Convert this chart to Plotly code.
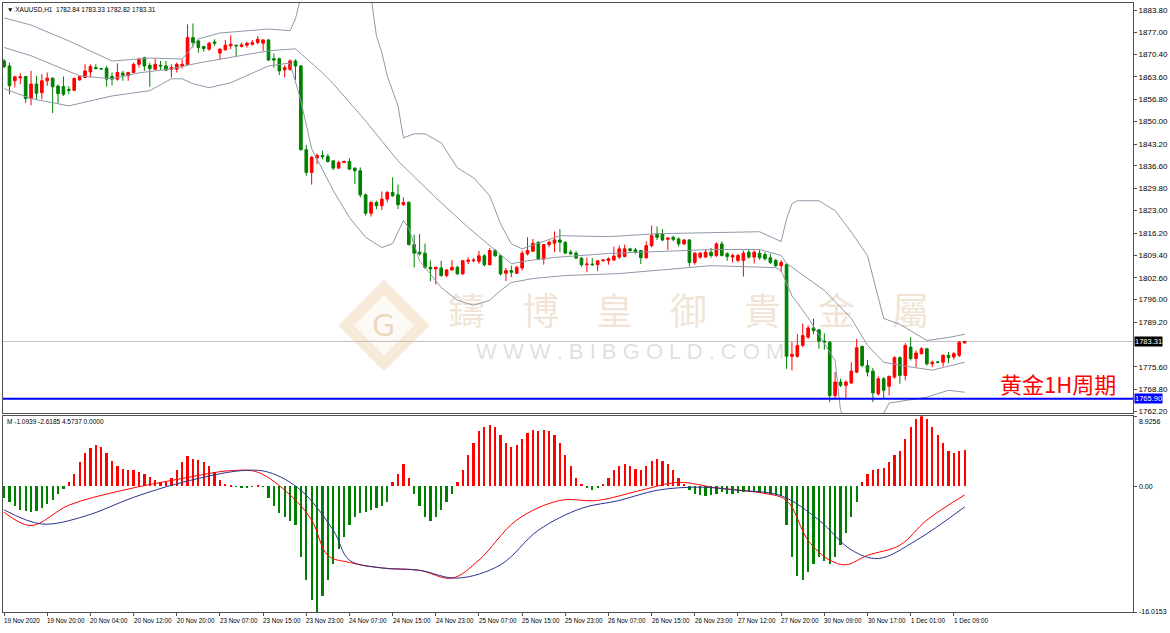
import plotly.graph_objects as go

# ---------------- data ----------------
open_ = [1868.4,1866.9,1862.4,1863.3,1863.7,1857.0,1861.4,1858.8,1862.4,1863.2,1860.8,1860.6,1859.8,1859.5,1862.7,1863.4,1865.1,1866.4,1866.1,1866.2,
         1863.7,1862.9,1864.7,1863.9,1864.9,1867.4,1869.4,1867.1,1865.9,1867.1,1866.9,1865.9,1865.9,1866.9,1867.4,1875.5,1874.5,1872.8,1872.0,1874.2,
         1870.8,1871.8,1873.0,1873.2,1872.8,1873.2,1873.5,1874.0,1873.8,1874.8,1869.1,1869.1,1865.7,1865.9,1868.4,1866.9,1841.5,1834.6,1839.0,1839.7,
         1839.4,1838.1,1835.9,1837.6,1837.9,1835.9,1835.1,1827.8,1822.2,1825.5,1824.5,1826.5,1828.5,1827.8,1824.8,1825.5,1812.7,1810.4,1810.1,1805.8,
         1805.3,1805.6,1803.3,1805.0,1805.8,1803.8,1807.6,1807.8,1807.6,1809.3,1806.6,1810.9,1809.3,1804.0,1804.8,1804.0,1805.6,1809.9,1810.7,1813.4,
         1808.3,1812.7,1813.1,1814.1,1813.4,1810.4,1810.1,1808.6,1806.6,1806.8,1806.6,1807.8,1807.8,1808.0,1808.9,1809.1,1811.4,1811.1,1810.9,1808.7,
         1812.4,1815.9,1815.9,1814.3,1814.9,1814.4,1812.9,1814.1,1807.3,1808.9,1808.9,1810.4,1809.4,1812.9,1809.9,1808.9,1807.9,1807.9,1810.4,1808.9,
         1810.1,1809.7,1808.7,1807.9,1806.3,1806.6,1778.8,1778.8,1782.1,1784.6,1787.4,1786.8,1783.4,1783.1,1766.9,1771.0,1770.0,1770.7,1774.0,1781.8,
         1776.0,1774.3,1767.4,1772.0,1769.7,1772.5,1778.4,1773.0,1781.6,1778.1,1779.6,1781.1,1776.5,1777.1,1777.0,1779.1,1778.6,1779.1,1782.84]
high = [1869.0,1867.9,1863.9,1864.7,1863.9,1865.4,1863.9,1864.4,1864.9,1863.4,1861.3,1863.7,1860.8,1863.4,1863.9,1867.4,1867.4,1867.4,1866.3,1866.9,
        1864.9,1867.7,1865.4,1865.1,1867.9,1869.4,1869.7,1867.9,1869.1,1868.4,1868.4,1867.4,1867.9,1868.9,1879.5,1879.8,1874.8,1873.0,1874.2,1875.0,
        1872.2,1874.8,1876.2,1873.3,1874.0,1874.2,1874.8,1876.0,1875.0,1875.0,1870.7,1869.4,1867.1,1868.9,1868.9,1867.1,1843.0,1839.6,1840.4,1841.2,
        1840.2,1838.3,1838.1,1838.2,1838.9,1836.1,1836.1,1828.2,1826.0,1826.0,1828.8,1829.0,1833.1,1830.9,1827.0,1825.8,1815.7,1815.9,1813.0,1807.9,
        1806.0,1807.8,1805.3,1808.0,1806.3,1808.0,1808.8,1808.6,1810.8,1809.8,1811.7,1811.4,1809.6,1805.6,1806.3,1806.3,1810.9,1814.9,1814.4,1813.7,
        1812.9,1813.9,1816.7,1817.4,1813.7,1811.1,1810.7,1808.8,1808.8,1808.6,1808.0,1808.3,1808.8,1812.1,1812.4,1812.7,1811.7,1811.7,1811.1,1813.7,
        1818.5,1818.2,1817.4,1814.9,1815.4,1814.9,1814.4,1814.4,1810.4,1810.4,1811.1,1811.7,1813.4,1813.7,1810.4,1809.9,1809.9,1810.9,1811.1,1810.9,
        1811.1,1810.4,1809.9,1808.4,1808.0,1807.0,1783.1,1785.6,1788.7,1788.2,1790.2,1787.1,1785.8,1783.4,1774.0,1772.0,1771.5,1777.0,1784.1,1782.1,
        1777.7,1775.3,1772.7,1772.5,1773.0,1778.8,1778.8,1782.8,1784.6,1780.6,1781.6,1781.4,1777.5,1777.3,1779.4,1780.1,1780.1,1783.4,1783.33]
low = [1866.2,1858.3,1860.4,1861.4,1855.6,1855.0,1856.8,1856.8,1860.9,1852.6,1855.6,1857.8,1858.3,1859.3,1862.4,1863.4,1863.4,1865.9,1865.8,1860.6,
       1861.0,1862.4,1862.4,1862.4,1864.7,1866.4,1865.4,1860.6,1865.7,1865.7,1865.4,1863.4,1864.9,1866.1,1867.1,1872.5,1870.9,1871.2,1871.5,1873.0,
       1868.7,1871.5,1872.0,1869.9,1872.5,1872.5,1873.0,1873.5,1871.5,1868.4,1866.4,1864.1,1863.4,1865.4,1862.7,1841.2,1833.6,1830.9,1837.1,1838.6,
       1837.6,1835.3,1835.6,1837.5,1835.3,1831.1,1827.0,1821.5,1821.2,1823.5,1823.2,1825.5,1827.2,1823.5,1824.5,1812.4,1805.8,1809.4,1805.3,1801.6,
       1800.6,1803.0,1802.8,1804.8,1803.6,1803.6,1806.8,1807.3,1806.8,1806.0,1806.3,1809.0,1803.3,1801.6,1802.8,1803.8,1804.8,1809.4,1810.4,1808.0,
       1806.6,1811.9,1810.4,1810.4,1809.9,1809.6,1808.3,1806.0,1804.3,1806.3,1804.6,1807.6,1806.6,1807.8,1808.4,1808.8,1810.4,1809.9,1806.8,1808.4,
       1811.9,1814.1,1813.7,1811.1,1813.7,1812.1,1812.6,1806.0,1806.6,1808.4,1808.7,1808.7,1808.9,1809.1,1807.8,1807.3,1807.3,1803.0,1808.4,1807.0,
       1808.1,1807.9,1806.8,1805.8,1804.3,1775.0,1774.5,1778.4,1781.6,1784.1,1785.6,1781.1,1780.8,1764.9,1765.9,1769.5,1765.6,1770.5,1773.7,1775.5,
       1772.7,1764.9,1766.9,1765.9,1766.9,1772.0,1770.5,1771.5,1777.5,1775.5,1779.4,1776.0,1775.5,1776.7,1775.7,1776.7,1777.8,1778.6,1782.82]
close = [1866.7,1860.9,1863.6,1863.6,1857.0,1861.4,1858.6,1862.4,1863.2,1860.6,1858.5,1858.3,1859.5,1863.1,1863.7,1865.4,1866.7,1866.1,1866.0,1862.9,
         1862.9,1864.9,1864.1,1864.9,1867.4,1868.9,1866.9,1866.1,1867.4,1866.9,1865.6,1866.4,1867.4,1867.4,1875.5,1874.0,1872.5,1872.2,1873.8,1873.8,
         1872.0,1873.2,1873.5,1873.0,1873.3,1873.8,1874.0,1875.0,1874.8,1868.7,1868.7,1865.4,1866.4,1868.4,1866.9,1841.5,1834.6,1839.2,1839.7,1839.4,
         1837.9,1835.9,1837.6,1837.9,1835.6,1835.1,1827.8,1822.2,1825.5,1824.5,1826.5,1828.5,1827.5,1824.8,1825.5,1812.7,1810.1,1809.9,1805.8,1805.3,
         1805.8,1803.3,1805.0,1805.8,1803.8,1807.8,1808.0,1808.0,1809.3,1806.6,1810.9,1809.3,1803.8,1804.8,1804.3,1805.8,1810.1,1810.9,1813.1,1808.3,
         1812.7,1813.4,1814.1,1813.4,1810.1,1809.9,1808.6,1806.6,1806.8,1806.6,1807.8,1808.0,1808.4,1809.2,1811.4,1811.4,1810.9,1810.4,1808.7,1812.4,
         1815.4,1814.9,1814.1,1814.7,1814.3,1812.9,1814.1,1807.3,1810.1,1810.1,1810.4,1809.4,1812.9,1809.4,1809.1,1809.4,1809.4,1810.1,1808.9,1810.4,
         1808.7,1808.4,1807.3,1806.3,1807.3,1778.8,1779.4,1782.1,1785.1,1787.4,1786.6,1783.4,1783.1,1766.9,1771.0,1770.0,1771.0,1774.3,1781.4,1776.0,
         1774.0,1767.7,1772.0,1768.5,1772.7,1778.4,1773.0,1782.1,1778.1,1779.8,1781.1,1776.5,1777.0,1777.0,1779.1,1778.4,1779.6,1783.1,1783.31]

macd_hist = [-1.5,-2,-2.5,-3,-3.2,-3.3,-3.2,-2.8,-2.3,-1.8,-1.0,-0.4,
             0.5,1.5,3,4.2,4.8,5.2,5.0,4.2,3.2,2.5,2.2,2.0,2.0,
             1.8,1.5,1.2,0.8,0.5,0.6,1.0,
             2.0,3.0,3.8,3.5,3.3,3.0,2.5,1.8,0.8,
             0.3,0.1,-0.1,-0.2,-0.2,-0.1,0.1,-0.1,
             -1.5,-2.5,-3.5,-4.0,-4.5,-5.0,-9,-12,-14.5,-16.0153,
             -14,-12,-10,-8,-6.5,-5,-4,-3.5,-3.3,-3.0,-2.8,-2.5,-2,
             0.5,1.5,2.8,1.0,
             -1,-2.5,-4,-4.5,-4,-3,-2,-1,
             0.5,2,4,5.5,7,7.5,7.8,7.5,6.5,5.5,5.0,5.2,6,6.8,7.2,7.0,7.2,7.0,6.5,5.5,4,2.5,
             1,0.3,-0.3,-0.5,-0.3,0.3,
             1,2,2.5,2.8,2.5,2.2,2.0,2.5,3.2,3.5,3.2,2.8,2.0,1.0,0.3,
             -0.5,-1,-1.2,-1.3,-1.2,-1.0,-0.8,-1.0,-1.0,-0.9,-0.8,-0.7,-0.8,-0.9,-1.0,-1.0,-1.2,-1.3,
             -5,-9,-11.5,-12,-11,-10,-9,-9.5,-10,-9,-7.5,-6,-4,-2,
             0.5,1.5,2,2.2,2.3,3,4,4.5,6,7.5,8.5,8.9256,8.5,7.5,6.5,5.5,4.5,4.2,4.5,4.5737]

dif_bar = [0,5,12,22,33,42,47,53,57,60,64,70,77,83,88,95,103,110,118,125,132,140,145,149,153,156,160,166,171,178]
dif_val = [-3.3,-5.0,-2.4,-0.5,1.0,2.0,1.8,-1.1,-4.3,-8.8,-9.7,-10.4,-10.7,-11.7,-9.4,-4.3,-1.8,-1.8,-0.5,0.5,-0.2,-0.8,-1.8,-6.9,-9.4,-10.0,-8.8,-7.5,-4.3,-1.0939]
dea_bar = [0,7,15,24,33,44,49,55,61,64,70,77,84,92,99,107,114,121,129,136,144,151,157,162,169,178]
dea_val = [-3.0,-4.8,-3.8,-1.4,0.5,2.0,1.8,-0.5,-5.6,-9.4,-10.4,-10.7,-11.7,-10.0,-5.6,-2.8,-1.8,-0.5,-0.1,-0.5,-1.2,-4.3,-8.1,-9.2,-6.9,-2.6185]

bb_up_bar = [0,5,12,20,27,33,34,36,40,49,53,54,55,None,68,69,70,71,73,74,76,78,81,84,87,90,92,94,96,103,112,121,140,144,145,146,147,151,154,157,160,162,163,166,171,175,178]
bb_up_val = [1881.5,1879.3,1874.5,1868.4,1869.3,1869.0,1870.9,1875.1,1876.9,1878.1,1877.6,1881.2,1888.0,None,1888.0,1876.0,1871.0,1863.9,1854.8,1845.1,1846.3,1846.3,1843.6,1836.0,1833.0,1827.5,1819.0,1812.9,1811.4,1815.4,1815.1,1816.0,1816.6,1813.6,1820.5,1825.1,1826.0,1826.0,1823.0,1816.5,1809.3,1797.0,1790.3,1788.5,1783.6,1784.5,1785.5]
bb_mid_bar = [0,5,14,20,25,31,36,49,54,59,61,67,73,80,86,90,94,97,102,112,131,140,144,145,149,152,157,160,163,167,172,178]
bb_mid_val = [1872.5,1870.0,1863.9,1863.0,1864.8,1866.0,1867.8,1871.5,1872.1,1864.8,1861.5,1850.2,1838.1,1826.9,1817.9,1812.4,1806.9,1807.8,1808.8,1810.0,1811.2,1811.2,1809.4,1807.0,1802.4,1798.8,1790.3,1782.1,1777.0,1775.8,1774.6,1777.0]
bb_low_bar = [0,5,12,20,27,31,33,35,38,42,49,53,55,57,61,64,67,70,72,74,75,77,81,84,87,90,92,94,98,104,114,131,143,144,146,149,154,155,157,161,163,164,171,175,178]
bb_low_val = [1860.0,1857.0,1854.8,1857.8,1859.4,1863.0,1863.0,1861.5,1860.3,1861.8,1866.9,1867.8,1856.3,1841.8,1829.1,1820.9,1814.9,1811.8,1813.0,1820.0,1817.6,1807.8,1799.7,1795.8,1794.3,1795.8,1798.8,1801.2,1802.4,1803.3,1803.9,1806.3,1805.7,1804.8,1797.2,1790.5,1777.5,1762.4,1756.0,1756.0,1761.5,1764.6,1766.4,1768.5,1767.9]

price_ticks = [1883.80,1877.00,1870.40,1863.60,1856.80,1850.00,1843.20,1836.60,1829.80,1823.00,1816.20,1809.40,1802.60,1796.00,1789.20,1775.60,1768.80,1762.20]
macd_ticks = [8.9256, 0.0, -16.0153]
macd_tick_text = ["8.9256", "0.00", "-16.0153"]
time_labels = ["19 Nov 2020","19 Nov 20:00","20 Nov 04:00","20 Nov 12:00","20 Nov 20:00","23 Nov 07:00","23 Nov 15:00","23 Nov 23:00",
               "24 Nov 07:00","24 Nov 15:00","24 Nov 23:00","25 Nov 07:00","25 Nov 15:00","25 Nov 23:00","26 Nov 07:00","26 Nov 15:00",
               "26 Nov 23:00","27 Nov 12:00","27 Nov 20:00","30 Nov 09:00","30 Nov 17:00","1 Dec 01:00","1 Dec 09:00"]
bars_per_label = 8
support_level = 1765.90
symbol_title = "▼ XAUUSD,H1  1782.84 1783.33 1782.82 1783.31"
macd_title = "M -1.0939 -2.6185 4.5737 0.0000"
note_text = "黄金1H周期"
wm_cn = "鑄　博　皇　御　貴　金　屬"
wm_url = "W W W . B I B G O L D . C O M"

# ---------------- layout helpers ----------------
W, H = 1170, 633
ML, MR, MT, MB = 3, 34, 2, 21
PW, PH = W - ML - MR, H - MT - MB
def px(x): return (x - ML) / PW
def py(y): return (H - MB - y) / PH

bars = list(range(len(close)))
label_bars = [i * bars_per_label for i in range(len(time_labels))]
XR = [-0.2, 209.2]
FONT = "Liberation Sans"
RED, GREEN = "#ff0000", "#008000"
BAND = "#8f98a8"

fig = go.Figure()

for bx, bv in [(bb_up_bar, bb_up_val), (bb_mid_bar, bb_mid_val), (bb_low_bar, bb_low_val)]:
    fig.add_trace(go.Scatter(x=bx, y=bv, mode="lines", line=dict(color=BAND, width=1),
                             connectgaps=False, xaxis="x", yaxis="y", hoverinfo="skip", showlegend=False))

fig.add_trace(go.Candlestick(x=bars, open=open_, high=high, low=low, close=close,
                             increasing=dict(line=dict(color=RED, width=1), fillcolor=RED),
                             decreasing=dict(line=dict(color=GREEN, width=1), fillcolor=GREEN),
                             whiskerwidth=0, xaxis="x", yaxis="y", hoverinfo="skip", showlegend=False))

fig.add_trace(go.Bar(x=bars, y=macd_hist, width=0.42,
                     marker=dict(color=[RED if v >= 0 else GREEN for v in macd_hist], line=dict(width=0)),
                     xaxis="x2", yaxis="y2", hoverinfo="skip", showlegend=False))
fig.add_trace(go.Scatter(x=dif_bar, y=dif_val, mode="lines", line=dict(color=RED, width=1, shape="spline"),
                         xaxis="x2", yaxis="y2", hoverinfo="skip", showlegend=False))
fig.add_trace(go.Scatter(x=dea_bar, y=dea_val, mode="lines", line=dict(color="#28358f", width=1, shape="spline"),
                         xaxis="x2", yaxis="y2", hoverinfo="skip", showlegend=False))

shapes = [
    dict(type="line", xref="x", yref="y", x0=XR[0], x1=XR[1], y0=close[-1], y1=close[-1],
         line=dict(color="#c0c0c0", width=1), layer="below"),
    dict(type="line", xref="x", yref="y", x0=XR[0], x1=XR[1], y0=support_level, y1=support_level,
         line=dict(color="#0000ff", width=2)),
]
cx, cy, r = 385, 325, 46
def pth(pts):
    return "M " + " L ".join(f"{px(a):.5f},{py(b):.5f}" for a, b in pts) + " Z"
shapes.append(dict(type="path", xref="paper", yref="paper", layer="below",
                   path=pth([(cx - r, cy), (cx, cy - r), (cx + r, cy), (cx, cy + r)]),
                   fillcolor="rgba(225,180,120,0.28)", line=dict(width=0)))
shapes.append(dict(type="path", xref="paper", yref="paper", layer="below",
                   path=pth([(cx - r + 16, cy), (cx, cy - r + 16), (cx + r - 16, cy), (cx, cy + r - 16)]),
                   fillcolor="rgba(255,255,255,0.75)", line=dict(width=0)))

ann = []
ann.append(dict(text="G", x=px(cx), y=py(cy), xref="paper", yref="paper", showarrow=False,
                font=dict(family="DejaVu Sans", size=30, color="rgba(200,150,90,0.35)")))
ann.append(dict(text=wm_cn, x=px(690), y=py(309), xref="paper", yref="paper", showarrow=False,
                font=dict(family="Noto Sans CJK TC", size=37, color="rgba(200,150,95,0.26)")))
ann.append(dict(text=wm_url, x=px(632), y=py(351), xref="paper", yref="paper", showarrow=False,
                font=dict(family=FONT, size=22, color="rgba(140,140,140,0.28)")))

ann.append(dict(text=symbol_title, x=px(5), y=py(9), xref="paper", yref="paper", xanchor="left",
                yanchor="middle", showarrow=False, font=dict(family=FONT, size=6.5, color="#000")))
ann.append(dict(text=macd_title, x=px(5), y=py(421), xref="paper", yref="paper", xanchor="left",
                yanchor="middle", showarrow=False, font=dict(family=FONT, size=6.5, color="#000")))
ann.append(dict(text=note_text, x=px(1061), y=py(383), xref="paper", yref="paper", xanchor="center",
                yanchor="middle", showarrow=False, font=dict(family="Noto Sans CJK SC", size=22, color="#ff0000")))
ann.append(dict(text=f"{close[-1]:.2f}", x=1, xref="paper", y=close[-1], yref="y", xanchor="left", xshift=1,
                yanchor="middle", showarrow=False, bgcolor="#000000", borderpad=0,
                font=dict(family=FONT, size=7.5, color="#ffffff")))
ann.append(dict(text=f"{support_level:.2f}", x=1, xref="paper", y=support_level, yref="y", xanchor="left", xshift=1,
                yanchor="middle", showarrow=False, bgcolor="#0000ff", borderpad=0,
                font=dict(family=FONT, size=7.5, color="#ffffff")))
macd_label_y = [421, 486, 611]
for v, t, yy in zip(macd_ticks, macd_tick_text, macd_label_y):
    ann.append(dict(text=t, x=1, xref="paper", y=py(yy), yref="paper", xanchor="left", xshift=4,
                    yanchor="middle", showarrow=False, font=dict(family=FONT, size=7, color="#000")))
for b, t in zip(label_bars, time_labels):
    ann.append(dict(text=t, x=b, xref="x2", y=py(621), yref="paper", xanchor="left", yanchor="middle",
                    xshift=-2, showarrow=False, font=dict(family=FONT, size=6.3, color="#000")))

axis_common = dict(showgrid=False, zeroline=False, showline=True, mirror=True, linecolor="#505050", linewidth=1)
fig.update_layout(
    width=W, height=H, margin=dict(l=ML, r=MR, t=MT, b=MB),
    paper_bgcolor="#ffffff", plot_bgcolor="rgba(0,0,0,0)",
    showlegend=False, shapes=shapes, annotations=ann, bargap=0,
    xaxis=dict(domain=[0, 1], range=XR, anchor="y", showticklabels=False, ticks="",
               rangeslider=dict(visible=False), **axis_common),
    yaxis=dict(domain=[py(413), 1], range=[1761.5, 1886.0], side="right", anchor="x",
               tickvals=price_ticks, ticktext=[f"{v:.2f}" for v in price_ticks], ticks="outside", ticklen=3,
               tickcolor="#505050", tickfont=dict(family=FONT, size=8, color="#000"), **axis_common),
    xaxis2=dict(domain=[0, 1], range=XR, anchor="y2", tickvals=label_bars, ticks="outside", ticklen=3,
                tickcolor="#505050", showticklabels=False, **axis_common),
    yaxis2=dict(domain=[0, py(416)], range=[-16.0153, 8.9256], side="right", anchor="x2",
                tickvals=macd_ticks, ticks="outside", ticklen=3, tickcolor="#505050",
                showticklabels=False, **axis_common),
)
fig.write_html("out.html")
